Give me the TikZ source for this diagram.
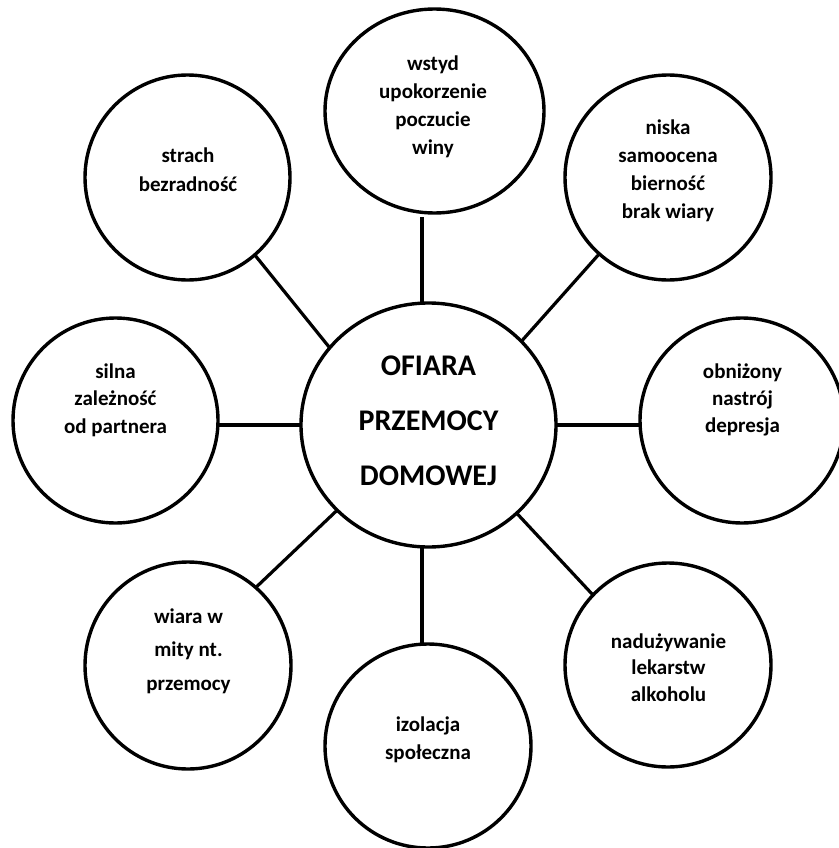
\documentclass[tikz,border=0pt]{standalone}
\usepackage{fontspec}
\setmainfont{Carlito}
\usetikzlibrary{shapes.geometric}
\newcommand\labfont[2]{\fontsize{#1}{#2}\selectfont\bfseries}
\tikzset{
  bub/.style={draw=black, line width=3.4pt, ellipse, inner sep=0pt, outer sep=0pt},
  lbl/.style={align=center, inner sep=0pt, anchor=base, font=\labfont{21}{#1}},
  lbl/.default=28,
  conn/.style={draw=black, line width=3.2pt}
}
\begin{document}
\begin{tikzpicture}[x=1pt, y=-1pt]
\useasboundingbox (0,0) rectangle (838,848);
% bubbles
\node[bub, minimum width=255pt, minimum height=244pt] (ofiara) at (428.5,425) {};
\node[bub, minimum width=219pt, minimum height=204pt] (wstyd) at (434.5,111) {};
\node[bub, minimum width=205pt, minimum height=205pt] (strach) at (187.5,177.5) {};
\node[bub, minimum width=206pt, minimum height=205pt] (niska) at (668,177.5) {};
\node[bub, minimum width=205pt, minimum height=205pt] (silna) at (115.5,420.5) {};
\node[bub, minimum width=204pt, minimum height=205pt] (obn) at (742,420.5) {};
\node[bub, minimum width=206pt, minimum height=207pt] (wiara) at (188,665.5) {};
\node[bub, minimum width=206pt, minimum height=204pt] (izol) at (428,746) {};
\node[bub, minimum width=206pt, minimum height=204pt] (nad) at (668,665) {};
% labels (anchored at the baseline of the last line)
\node[align=center, inner sep=0pt, anchor=base, font=\labfont{30}{55}] (tofiara) at (428.5,485) {OFIARA\\PRZEMOCY\\DOMOWEJ};
\node[lbl=28] (twstyd) at (433,154) {wstyd\\upokorzenie\\poczucie\\winy};
\node[lbl=29] (tstrach) at (188,191) {strach\\bezradność};
\node[lbl=27.7] (tniska) at (668,218) {niska\\samoocena\\bierność\\brak wiary};
\node[lbl=27.5] (tsilna) at (115.5,433) {silna\\zależność\\od partnera};
\node[lbl=27] (tobn) at (742.5,432) {obniżony\\nastrój\\depresja};
\node[lbl=33.5] (twiara) at (188.5,690) {wiara w\\mity nt.\\przemocy};
\node[lbl=28] (tizol) at (428,759) {izolacja\\społeczna};
\node[lbl=26.5] (tnad) at (668.5,701) {nadużywanie\\lekarstw\\alkoholu};
% connectors
\draw[conn] ([xshift=-12.5pt,yshift=-4pt]wstyd.south) -- ([xshift=-6.5pt]ofiara.north);
\draw[conn] (strach.-49.7) -- (ofiara.142.3);
\draw[conn] (niska.228.3) -- (ofiara.42.8);
\draw[conn] (ofiara.west) -- (ofiara.west -| silna.east);
\draw[conn] (ofiara.east) -- (ofiara.east -| obn.west);
\draw[conn] (ofiara.223.6) -- (wiara.49.9);
\draw[conn] (ofiara.-45.2) -- (nad.137.3);
\draw[conn] ([xshift=-6.5pt]ofiara.south) -- ([xshift=-6pt]izol.north);
\end{tikzpicture}
\end{document}
